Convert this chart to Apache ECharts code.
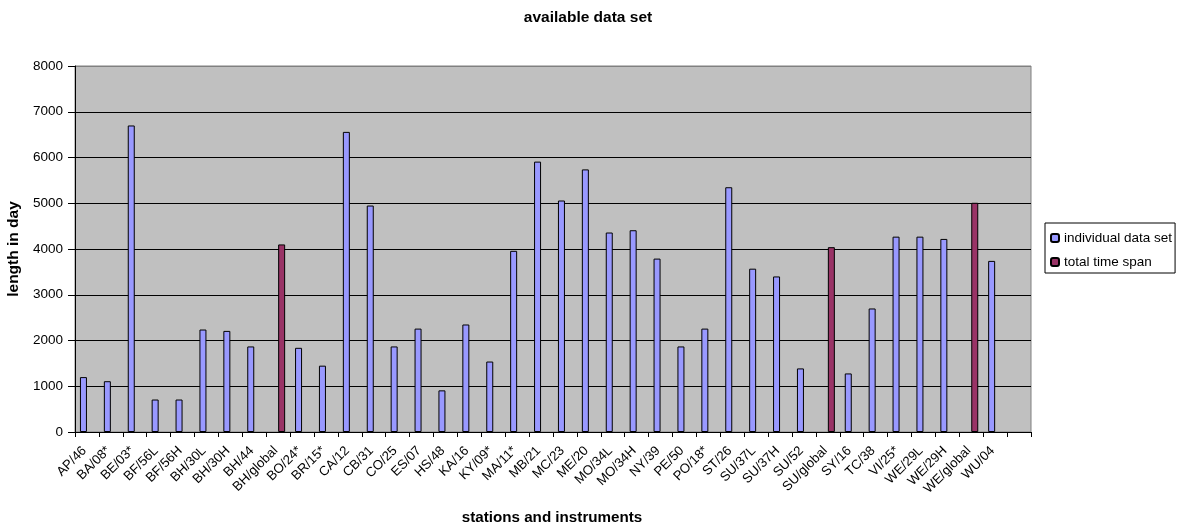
<!DOCTYPE html>
<html>
<head>
<meta charset="utf-8">
<script src="https://cdn.jsdelivr.net/npm/echarts@6/dist/echarts.min.js"></script>
<style>html,body{margin:0;padding:0;background:#fff}#c{width:1184px;height:526px}</style>
</head>
<body>
<div id="c"></div>
<script>
var categories = ['AP/46','BA/08*','BE/03*','BF/56L','BF/56H','BH/30L','BH/30H','BH/44','BH/global','BO/24*','BR/15*','CA/12','CB/31','CO/25','ES/07','HS/48','KA/16','KY/09*','MA/11*','MB/21','MC/23','ME/20','MO/34L','MO/34H','NY/39','PE/50','PO/18*','ST/26','SU/37L','SU/37H','SU/52','SU/global','SY/16','TC/38','VI/25*','WE/29L','WE/29H','WE/global','WU/04',''];
var individualDataSet = [1200,1110,6700,710,710,2240,2210,1870,null,1840,1450,6560,4950,1870,2260,910,2350,1540,3960,5910,5060,5740,4360,4410,3790,1870,2260,5350,3570,3400,1390,null,1280,2700,4270,4270,4220,null,3740,null];
var totalTimeSpan = [null,null,null,null,null,null,null,null,4100,null,null,null,null,null,null,null,null,null,null,null,null,null,null,null,null,null,null,null,null,null,null,4040,null,null,null,null,null,5010,null,null];
var yTicks = [0,1000,2000,3000,4000,5000,6000,7000,8000];

var FONT = 'Arial, "Liberation Sans", sans-serif';
var chart = echarts.init(document.getElementById('c'), null, {renderer:'canvas'});
chart.setOption({
  animation: false,
  backgroundColor: '#ffffff',
  title: [
    {text: 'available data set', left: 583, top: 5, textAlign: 'center',
     textStyle: {fontFamily: FONT, fontSize: 15.5, fontWeight: 'bold', color: '#000'}},
    {text: 'stations and instruments', left: 547, top: 505, textAlign: 'center',
     textStyle: {fontFamily: FONT, fontSize: 15.2, fontWeight: 'bold', color: '#000'}}
  ],
  legend: {
    orient: 'vertical', left: 1045, top: 223,
    padding: [8, 3, 4, 5],
    itemWidth: 8, itemHeight: 8, itemGap: 10,
    borderColor: '#000', borderWidth: 1, backgroundColor: '#fff',
    textStyle: {fontFamily: FONT, fontSize: 13.5, color: '#000'},
    data: ['individual data set', 'total time span']
  },
  grid: {left: 75, right: 153, top: 66, bottom: 94, show: true, outerBoundsMode: 'none',
         containLabel: false,
         backgroundColor: '#C0C0C0', borderColor: '#808080', borderWidth: 1},
  xAxis: {
    type: 'category', data: categories,
    axisLine: {lineStyle: {color: '#000', width: 1}},
    axisTick: {show: true, length: 5, lineStyle: {color: '#000'}},
    axisLabel: {rotate: 45, interval: 0, margin: 5, verticalAlign: 'top', align: 'right',
                padding: [0, 10, 0, 0],
                fontFamily: FONT, fontSize: 13.2, color: '#000'},
    splitLine: {show: false}
  },
  yAxis: {
    type: 'value', min: yTicks[0], max: yTicks[yTicks.length-1], interval: 1000,
    name: 'length in day', nameLocation: 'middle', nameGap: 51, nameRotate: 90,
    nameTextStyle: {fontFamily: FONT, fontSize: 15.5, fontWeight: 'bold', color: '#000'},
    axisLine: {show: true, lineStyle: {color: '#000', width: 1}},
    axisTick: {show: true, length: 7, lineStyle: {color: '#000'}},
    axisLabel: {margin: 12, fontFamily: FONT, fontSize: 13.5, color: '#000',
                formatter: function (v) { return String(v); }},
    splitLine: {show: true, lineStyle: {color: ['#000','#000','#000','#000','#000','#000','#000','#000','#808080'], width: 1}}
  },
  series: [
    {name: 'individual data set', type: 'bar', data: individualDataSet,
     barWidth: 7, barGap: '0%',
     itemStyle: {color: '#9999FF', borderColor: '#000', borderWidth: 1}},
    {name: 'total time span', type: 'bar', data: totalTimeSpan,
     barWidth: 7, barGap: '0%',
     itemStyle: {color: '#993366', borderColor: '#000', borderWidth: 1}}
  ]
});
</script>
</body>
</html>
